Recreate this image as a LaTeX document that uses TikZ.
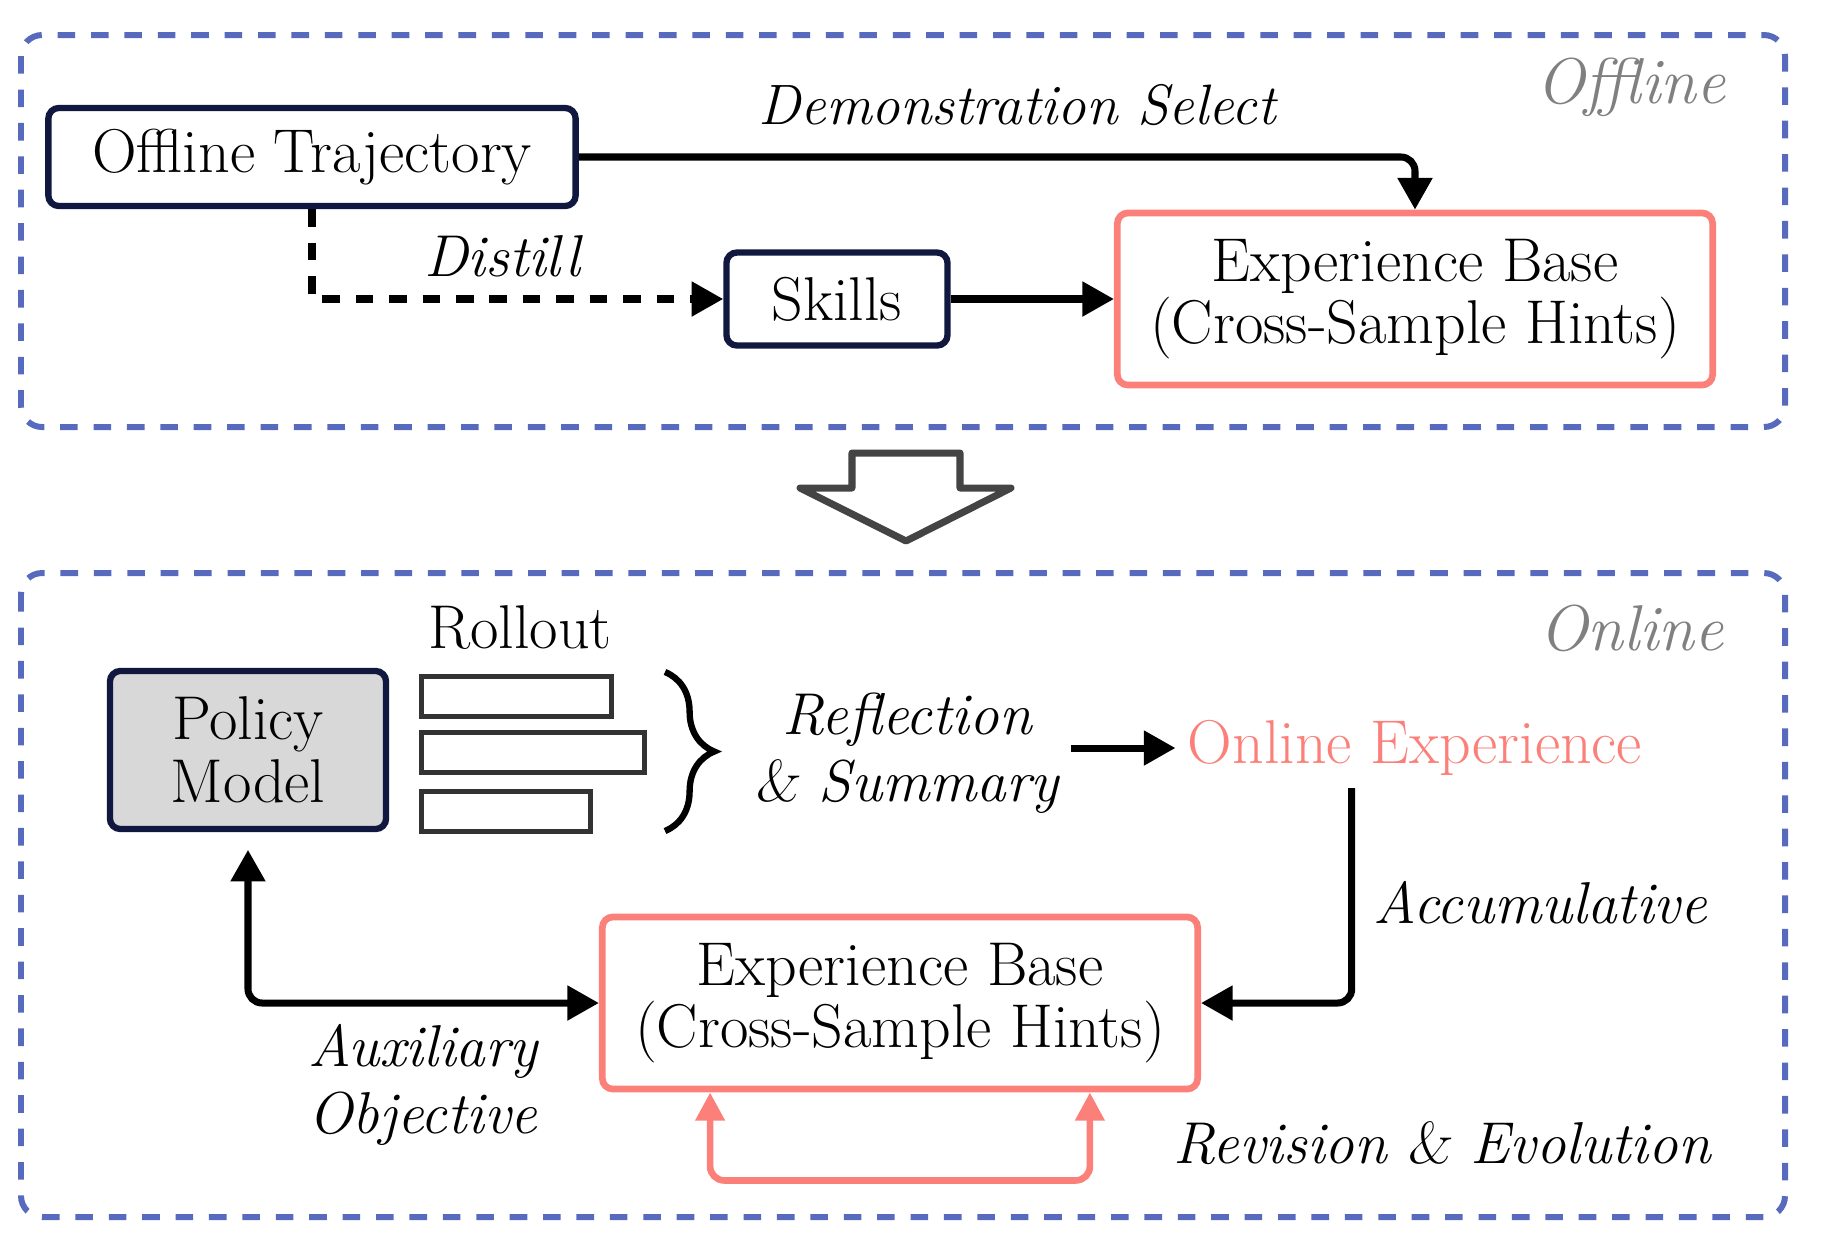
\documentclass[tikz,border=0pt]{standalone}
\usepackage{tikz}
\usepackage{xcolor}
\usetikzlibrary{arrows.meta, decorations.pathreplacing, calc}
\definecolor{frameblue}{RGB}{88, 106, 190}
\definecolor{navyline}{RGB}{17, 24, 64}
\definecolor{salmon}{RGB}{252, 128, 122}
\definecolor{boxgray}{RGB}{216, 216, 216}
\definecolor{bargray}{RGB}{51, 51, 51}
\definecolor{hollowgray}{RGB}{68, 68, 68}

\begin{document}
\begin{tikzpicture}[x=0.01cm, y=-0.01cm,
    every node/.style={font=\fontsize{17.6}{17.8}\selectfont},
    phase/.style={draw=frameblue, line width=1.7pt, dash pattern=on 5pt off 4.5pt, rounded corners=6pt},
    phaselabel/.style={font=\fontsize{18.4}{20}\selectfont\itshape, text=gray, anchor=east},
    navybox/.style={draw=navyline, line width=1.8pt, rounded corners=3pt, align=center},
    expbox/.style={draw=salmon, line width=1.9pt, rounded corners=3pt, align=center,
      minimum width=5.95cm, minimum height=1.72cm},
    rollbar/.style={draw=bargray, line width=1.4pt, minimum height=0.4cm, anchor=north west, inner sep=0pt},
    arr/.style={line width=2pt, -{Triangle[length=9pt, width=9.5pt]}, rounded corners=4pt},
    looparr/.style={draw=salmon, line width=1.9pt, rounded corners=4pt,
      {Triangle[length=8pt, width=8pt]}-{Triangle[length=8pt, width=8pt]}},
    lbl/.style={font=\fontsize{16.8}{19}\selectfont\itshape, align=center}]
  \useasboundingbox (0,0) rectangle (1823,1241);

  \draw[phase] (21,35) rectangle (1785,427);
  \node[phaselabel] (offlab) at (1738,87) {Offline};
  \node[navybox, minimum width=5.27cm, minimum height=0.98cm] (traj) at (312,157) {Offline Trajectory};
  \node[navybox, minimum width=2.21cm, minimum height=0.93cm] (skills) at (837,299) {Skills};
  \node[expbox] (ebtop) at (1415,299) {Experience Base\\(Cross-Sample Hints)};
  \node[lbl, font=\fontsize{16.2}{19}\selectfont\itshape] (demo) at (1017,105) {Demonstration Select};
  \node[lbl] (distill) at (502,256) {Distill};
  \draw[arr] (traj.east) -| (ebtop.north);
  \draw[arr, dash pattern=on 5pt off 4.5pt, rounded corners=0pt] (traj.south) |- (skills.west);
  \draw[arr] (skills.east) -- (ebtop.west);

  \draw[hollowgray, line width=2pt, line join=round]
    (852,488) -- (852,453) -- (960,453) -- (960,488) -- (1011,488) -- (906,541) -- (800,488) -- cycle;

  \draw[phase] (21,573) rectangle (1785,1217);
  \node[phaselabel] (onlab) at (1736,628) {Online};
  \node[navybox, fill=boxgray, minimum width=2.76cm, minimum height=1.58cm] (policy) at (248,750) {Policy\\Model};
  \node (rollab) at (520,628) {Rollout};
  \node[rollbar, minimum width=1.9cm] (roll1) at (419,674) {};
  \node[rollbar, minimum width=2.23cm] (roll2) at (419,730) {};
  \node[rollbar, minimum width=1.69cm] (roll3) at (419,789) {};
  \draw[line width=1.8pt, decorate, decoration={brace, amplitude=14pt}] (665,672) -- (665,831);
  \node[lbl] (refl) at (907,753) {Reflection\\\textsl{\&} Summary};
  \node[text=salmon] (onexp) at (1415,748) {Online Experience};
  \node[expbox] (ebbot) at (900,1003) {Experience Base\\(Cross-Sample Hints)};
  \node[lbl] (accum) at (1540,903) {Accumulative};
  \node[lbl] (aux) at (423,1085) {Auxiliary\\Objective};
  \node[lbl] (revis) at (1442,1143) {Revision \textsl{\&} Evolution};
  \draw[arr] (refl.east |- onexp.west) -- (onexp.west);
  \draw[arr] ([xshift=-18pt]onexp.south) |- (ebbot.east);
  \draw[arr, {Triangle[length=9pt, width=9.5pt]}-{Triangle[length=9pt, width=9.5pt]}]
    ([yshift=-5pt]policy.south) |- (ebbot.west);
  \draw[looparr] ([xshift=-54pt]ebbot.south) -- ++(0,88) -| ([xshift=54pt]ebbot.south);
\end{tikzpicture}
\end{document}
